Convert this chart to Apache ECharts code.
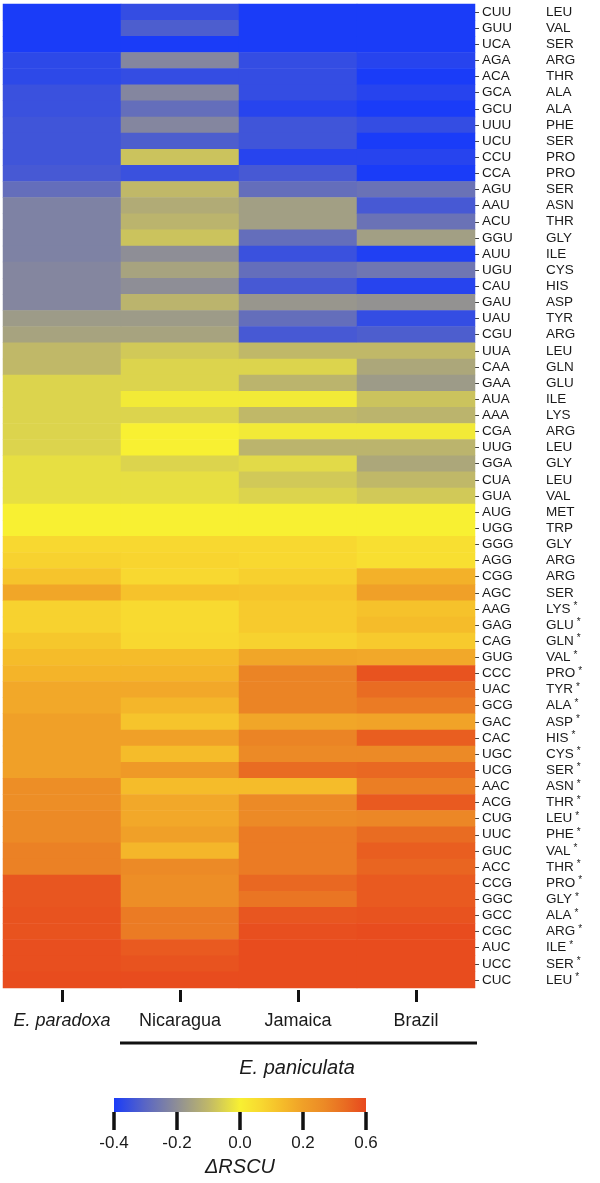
<!DOCTYPE html>
<html><head><meta charset="utf-8">
<script src="https://cdn.jsdelivr.net/npm/echarts@6/dist/echarts.min.js"></script>
<style>html,body{margin:0;padding:0;background:#fff}#c{width:600px;height:1183px}</style>
</head><body><div id="c"></div>
<script>
const columns = ['E. paradoxa', 'Nicaragua', 'Jamaica', 'Brazil'];
const codons = ['CUU','GUU','UCA','AGA','ACA','GCA','GCU','UUU','UCU','CCU','CCA',
  'AGU','AAU','ACU','GGU','AUU','UGU','CAU','GAU','UAU','CGU',
  'UUA','CAA','GAA','AUA','AAA','CGA','UUG','GGA','CUA','GUA',
  'AUG','UGG','GGG','AGG','CGG','AGC','AAG','GAG','CAG','GUG',
  'CCC','UAC','GCG','GAC','CAC','UGC','UCG','AAC','ACG','CUG',
  'UUC','GUC','ACC','CCG','GGC','GCC','CGC','AUC','UCC','CUC'];
const aminoAcids = ['LEU','VAL','SER','ARG','THR','ALA','ALA','PHE','SER','PRO','PRO',
  'SER','ASN','THR','GLY','ILE','CYS','HIS','ASP','TYR','ARG',
  'LEU','GLN','GLU','ILE','LYS','ARG','LEU','GLY','LEU','VAL',
  'MET','TRP','GLY','ARG','ARG','SER','LYS*','GLU*','GLN*','VAL*',
  'PRO*','TYR*','ALA*','ASP*','HIS*','CYS*','SER*','ASN*','THR*','LEU*',
  'PHE*','VAL*','THR*','PRO*','GLY*','ALA*','ARG*','ILE*','SER*','LEU*'];
const paradoxa = [
  -0.40,-0.40,-0.40,-0.37,-0.37,-0.35,-0.35,-0.34,-0.34,-0.34,-0.33,
  -0.28,-0.23,-0.23,-0.23,-0.23,-0.22,-0.22,-0.22,-0.17,-0.15,
  -0.10,-0.10,-0.05,-0.05,-0.05,-0.05,-0.05,-0.03,-0.03,-0.03,
  0.00,0.00,0.10,0.12,0.17,0.28,0.12,0.12,0.16,0.20,
  0.23,0.27,0.27,0.30,0.30,0.30,0.30,0.38,0.38,0.40,
  0.40,0.43,0.43,0.56,0.56,0.57,0.57,0.58,0.58,0.59];
const nicaragua = [
  -0.36,-0.32,-0.40,-0.22,-0.36,-0.22,-0.28,-0.22,-0.32,-0.08,-0.35,
  -0.10,-0.13,-0.11,-0.08,-0.20,-0.15,-0.20,-0.11,-0.17,-0.15,
  -0.07,-0.05,-0.05,-0.01,-0.05,0.00,0.00,-0.05,-0.03,-0.03,
  0.00,0.00,0.10,0.11,0.10,0.18,0.09,0.09,0.10,0.20,
  0.23,0.27,0.22,0.17,0.30,0.20,0.33,0.20,0.27,0.27,
  0.30,0.22,0.40,0.38,0.38,0.45,0.45,0.55,0.57,0.59];
const jamaica = [
  -0.40,-0.40,-0.40,-0.36,-0.36,-0.36,-0.38,-0.34,-0.34,-0.38,-0.33,
  -0.28,-0.16,-0.16,-0.28,-0.35,-0.28,-0.33,-0.18,-0.28,-0.33,
  -0.10,-0.05,-0.11,-0.01,-0.10,-0.01,-0.11,-0.04,-0.07,-0.05,
  0.00,0.00,0.10,0.10,0.13,0.17,0.15,0.15,0.12,0.28,
  0.42,0.42,0.42,0.28,0.42,0.40,0.50,0.20,0.40,0.40,
  0.45,0.45,0.45,0.51,0.47,0.56,0.58,0.59,0.59,0.59];
const brazil = [
  -0.40,-0.40,-0.40,-0.38,-0.40,-0.38,-0.40,-0.36,-0.40,-0.38,-0.40,
  -0.27,-0.33,-0.27,-0.16,-0.39,-0.26,-0.38,-0.19,-0.36,-0.32,
  -0.10,-0.14,-0.17,-0.08,-0.11,-0.01,-0.11,-0.14,-0.10,-0.07,
  0.00,0.00,0.07,0.07,0.24,0.30,0.18,0.20,0.15,0.27,
  0.57,0.50,0.45,0.29,0.54,0.40,0.51,0.44,0.55,0.41,
  0.50,0.54,0.52,0.55,0.55,0.57,0.59,0.59,0.59,0.59];
const scaleTicks = ['-0.4', '-0.2', '0.0', '0.2', '0.6'];
const scaleStops = [-0.4,-0.3,-0.2,-0.1,0.0,0.1,0.2,0.3,0.4,0.5,0.6];
const scaleColors = ['#1a3cf8','#5a66c4','#8e8e96','#c0b868','#f8f032','#f8d830',
  '#f5bc2a','#f0a028','#ec8a26','#e96c22','#e8481e'];

const FONT = '"Liberation Sans", Arial, Helvetica, sans-serif';
const TXT = '#1a1a1a';
const cols = [paradoxa, nicaragua, jamaica, brazil];
const data = [];
cols.forEach((arr, c) => arr.forEach((v, r) => data.push([c, r, v])));

// diverging colour bar: 0 sits in the middle of the bar
const barStops = scaleStops.map((v, i) => ({
  offset: v <= 0 ? (v + 0.4) / 0.8 : 0.5 + v / 1.2,
  color: scaleColors[i]
}));

const chart = echarts.init(document.getElementById('c'), null, {renderer: 'canvas'});
chart.setOption({
  animation: false,
  backgroundColor: '#fff',
  grid: [
    {left: 3, top: 4, width: 472, height: 984},
    {left: 114, top: 1098, width: 252, height: 14}
  ],
  xAxis: [
    {
      gridIndex: 0, type: 'category', data: columns, position: 'bottom', offset: 2,
      axisLine: {show: false}, splitLine: {show: false},
      axisTick: {show: true, alignWithLabel: true, length: 12, lineStyle: {color: '#111', width: 3}},
      axisLabel: {
        interval: 0, margin: 22, fontSize: 18, color: TXT, fontFamily: FONT,
        formatter: v => v === 'E. paradoxa' ? '{i|' + v + '}' : v,
        rich: {i: {fontStyle: 'italic', fontSize: 18, fontFamily: FONT, color: TXT}}
      }
    },
    {
      gridIndex: 1, type: 'category', data: scaleTicks, boundaryGap: false,
      axisLine: {show: false}, splitLine: {show: false},
      axisTick: {show: true, interval: 0, length: 18, lineStyle: {color: '#111', width: 3.5}},
      axisLabel: {interval: 0, margin: 23, fontSize: 17, color: TXT, fontFamily: FONT}
    }
  ],
  yAxis: [
    {
      gridIndex: 0, type: 'category', data: codons, inverse: true, position: 'right',
      axisLine: {show: false}, splitLine: {show: false},
      axisTick: {show: true, alignWithLabel: true, interval: 0, length: 4, lineStyle: {color: '#444', width: 1}},
      axisLabel: {
        interval: 0, margin: 7, color: TXT, fontFamily: FONT, fontSize: 13,
        formatter: (v, i) => {
          const aa = aminoAcids[i];
          const star = aa.endsWith('*');
          const name = star ? aa.slice(0, -1) : aa;
          return '{c|' + v + '}{a|' + name + '}' + (star ? '{s|*}' : '');
        },
        rich: {
          c: {width: 64, fontSize: 13.5, fontFamily: FONT, color: TXT},
          a: {fontSize: 13.5, fontFamily: FONT, color: TXT},
          s: {fontSize: 10, fontFamily: FONT, color: TXT, padding: [0, 0, 5, 3]}
        }
      }
    },
    {gridIndex: 1, type: 'value', show: false, min: 0, max: 1}
  ],
  visualMap: {
    type: 'continuous', show: false, min: -0.4, max: 0.6, dimension: 2, seriesIndex: 0,
    inRange: {color: scaleColors}
  },
  series: [{
    type: 'heatmap', xAxisIndex: 0, yAxisIndex: 0, data: data,
    itemStyle: {borderWidth: 0}, emphasis: {disabled: true}, progressive: 0
  }],
  graphic: [
    {type: 'rect', shape: {x: 114, y: 1098, width: 252, height: 14},
      style: {fill: new echarts.graphic.LinearGradient(0, 0, 1, 0, barStops)}},
    {type: 'line', shape: {x1: 120, y1: 1043, x2: 477, y2: 1043},
      style: {stroke: '#111', lineWidth: 3}},
    {type: 'text', x: 297, y: 1068, style: {text: 'E. paniculata', fill: TXT,
      font: 'italic 20px ' + FONT, align: 'center', verticalAlign: 'middle'}},
    {type: 'text', x: 240, y: 1167, style: {text: 'ΔRSCU', fill: TXT,
      font: 'italic 20px ' + FONT, align: 'center', verticalAlign: 'middle'}}
  ]
});
</script></body></html>
